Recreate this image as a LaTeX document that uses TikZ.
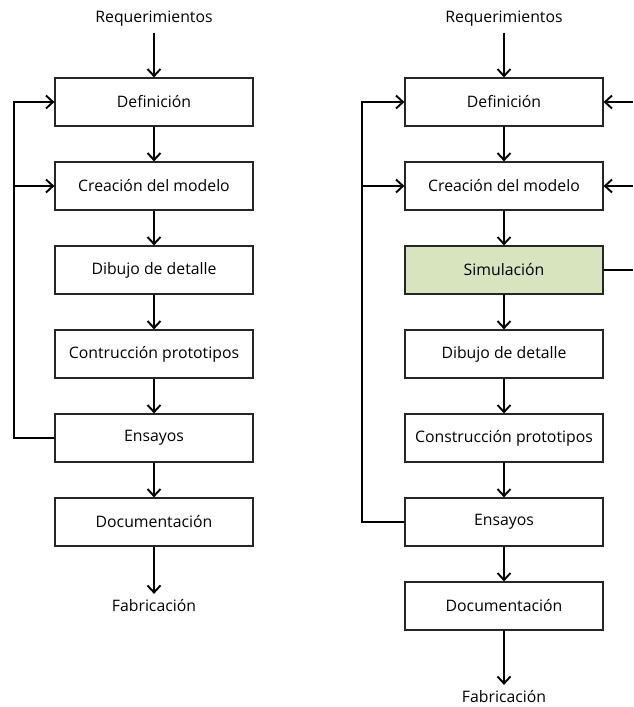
\documentclass[tikz,border=0pt]{standalone}
\usepackage{fontspec}
\setmainfont{Open Sans}
\usetikzlibrary{arrows.meta}
\definecolor{simgreen}{HTML}{D7E4BD}
\begin{document}
\begin{tikzpicture}[x=1pt,y=-1pt,
 box/.style={draw=black!85, line width=1.2pt, minimum width=198pt, minimum height=48pt, inner sep=0pt, font=\fontsize{15.8}{18}\selectfont},
 lbl/.style={font=\fontsize{15.8}{18}\selectfont, inner sep=0pt, outer sep=6pt},
 arr/.style={-{Straight Barb[length=7pt,width=13pt]}, line width=1.9pt},
 ln/.style={line width=1.9pt}]
\useasboundingbox (0,0) rectangle (633,707);
% left column
\node[lbl] (lreq) at (154,19) {Requerimientos};
\node[box] (l1) at (154,102) {Definición};
\node[box] (l2) at (154,186) {Creación del modelo};
\node[box] (l3) at (154,270) {Dibujo de detalle};
\node[box] (l4) at (154,354) {Contrucción prototipos};
\node[box] (l5) at (154,438) {Ensayos};
\node[box] (l6) at (154,522) {Documentación};
\node[lbl] (lfab) at (154,606) {Fabricación};
\draw[arr] (lreq) -- (l1);
\draw[arr] (l1) -- (l2);
\draw[arr] (l2) -- (l3);
\draw[arr] (l3) -- (l4);
\draw[arr] (l4) -- (l5);
\draw[arr] (l5) -- (l6);
\draw[arr] (l6) -- (lfab);
\coordinate (lfb) at (14,438);
\draw[arr] (l5.west) -- (lfb) |- (l1.west);
\draw[arr] (l2.west -| lfb) -- (l2.west);
% right column
\node[lbl] (rreq) at (504,19) {Requerimientos};
\node[box] (r1) at (504,102) {Definición};
\node[box] (r2) at (504,186) {Creación del modelo};
\node[box, fill=simgreen] (r3) at (504,270) {Simulación};
\node[box] (r4) at (504,354) {Dibujo de detalle};
\node[box] (r5) at (504,438) {Construcción prototipos};
\node[box] (r6) at (504,522) {Ensayos};
\node[box] (r7) at (504,606) {Documentación};
\node[lbl] (rfab) at (504,697) {Fabricación};
\draw[arr] (rreq) -- (r1);
\draw[arr] (r1) -- (r2);
\draw[arr] (r2) -- (r3);
\draw[arr] (r3) -- (r4);
\draw[arr] (r4) -- (r5);
\draw[arr] (r5) -- (r6);
\draw[arr] (r6) -- (r7);
\draw[arr] (r7) -- (rfab);
\coordinate (rfb) at (362,522);
\draw[arr] (r6.west) -- (rfb) |- (r1.west);
\draw[arr] (r2.west -| rfb) -- (r2.west);
% right edge
\coordinate (edge) at (633,0);
\draw[arr] (r1.east -| edge) -- (r1.east);
\draw[arr] (r2.east -| edge) -- (r2.east);
\draw[ln] (r3.east) -- (r3.east -| edge);
\end{tikzpicture}
\end{document}
